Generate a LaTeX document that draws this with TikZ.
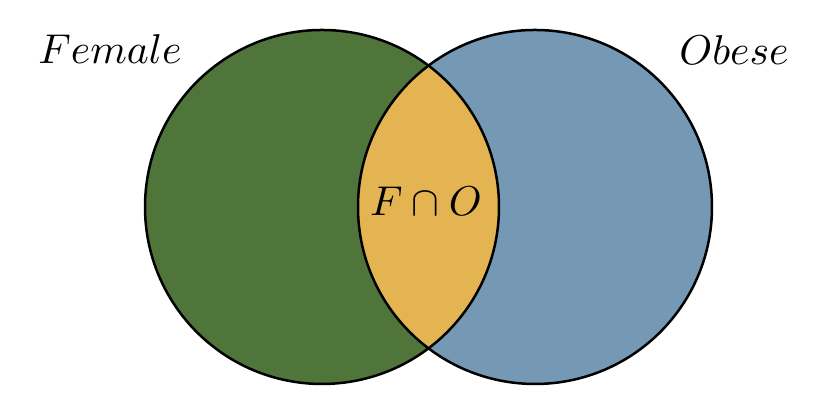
\documentclass[tikz,border=0pt]{standalone}
\definecolor{femalegreen}{RGB}{80,117,58}
\definecolor{obeseblue}{RGB}{117,153,180}
\definecolor{bothgold}{RGB}{228,180,82}
\begin{document}
\begin{tikzpicture}[x=0.24pt,y=0.24pt]
    \useasboundingbox (0,0) rectangle (822,410);
    % Circle centres
    \coordinate (female) at (322,203);
    \coordinate (obese) at (535,203);

    % Fill the two sets
    \fill[femalegreen] (female) circle (177);
    \fill[obeseblue] (obese) circle (177);

    % Intersection
    \begin{scope}
        \clip (female) circle (177);
        \fill[bothgold] (obese) circle (177);
    \end{scope}

    % Outlines
    \draw[line width=0.6pt] (female) circle (177);
    \draw[line width=0.6pt] (obese) circle (177);

    % Labels
    \node (femalelabel) at (110,361) {$Female$};
    \node (obeselabel) at (734,360) {$Obese$};
    \node (bothlabel) at (426,209) {$F\cap O$};
\end{tikzpicture}
\end{document}
